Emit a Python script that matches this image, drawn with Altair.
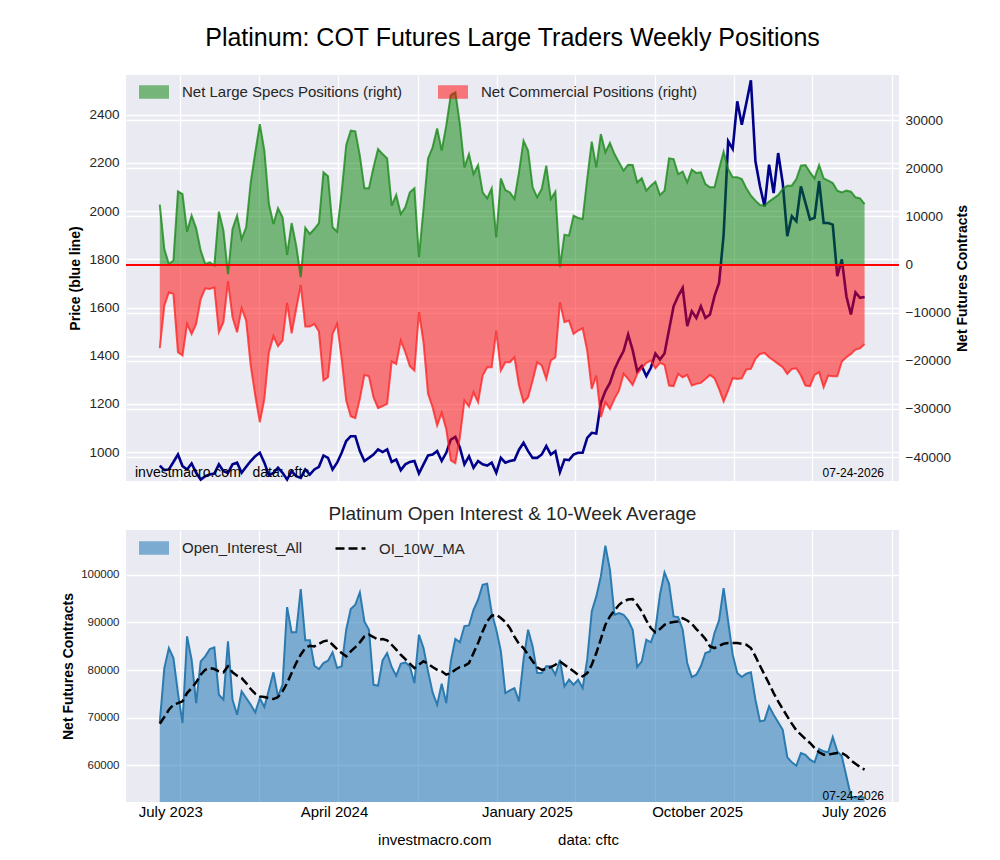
import altair as alt
import pandas as pd

# Weekly report dates (Tuesdays)
dates = pd.date_range("2023-08-01", periods=156, freq="7D").strftime("%Y-%m-%dT00:00:00").tolist()

price = [
    944, 925, 928, 959, 990, 942, 928, 953, 914, 886,
    900, 907, 911, 949, 921, 914, 949, 956, 914, 939,
    963, 983, 997, 956, 903, 914, 935, 914, 886, 921,
    900, 893, 928, 907, 928, 939, 986, 976, 928, 956,
    997, 1046, 1066, 1066, 1004, 963, 976, 990, 1011, 1000,
    1011, 959, 969, 925, 949, 959, 963, 911, 949, 986,
    990, 1004, 963, 997, 1052, 1063, 1018, 949, 983, 935,
    963, 949, 944, 956, 914, 976, 956, 963, 967, 1010,
    1039, 1004, 976, 976, 990, 1025, 990, 1004, 917, 969,
    967, 990, 997, 997, 1059, 1080, 1077, 1204, 1253, 1287,
    1343, 1384, 1419, 1488, 1423, 1336, 1357, 1315, 1350, 1409,
    1384, 1409, 1508, 1605, 1647, 1681, 1523, 1585, 1557, 1605,
    1557, 1571, 1647, 1702, 1900, 2290, 2258, 2456, 2359, 2449,
    2543, 2207, 2103, 2020, 2193, 2075, 2241, 2117, 1896, 1979,
    1958, 2103, 2034, 1965, 1972, 2124, 1951, 1951, 1944, 1730,
    1800, 1647, 1571, 1663, 1640, 1644,
]

net_specs = [
    12460, 3240, 100, 830, 15230, 14670, 6850, 10180, 7540, 2900,
    100, 480, -200, 11000, 7060, -2000, 7400, 10180, 5320, 7750,
    17100, 23330, 29210, 23680, 12590, 8430, 11700, 9830, 2000, 8640,
    3950, -2600, 7680, 6360, 7400, 8640, 19170, 18340, 7750, 6850,
    15020, 24840, 27830, 27690, 22640, 15850, 15850, 20210, 24010, 22970,
    22080, 12250, 14460, 10510, 11900, 15020, 15850, 1520, 11550, 22080,
    24370, 28310, 23680, 28870, 35230, 35790, 29210, 20210, 22970, 18820,
    20690, 15020, 13770, 15850, 5670, 17900, 15500, 15000, 13630, 19170,
    25760, 23680, 16060, 13980, 15710, 20560, 13630, 15160, -560, 6230,
    6020, 10180, 9690, 9480, 17790, 25550, 20210, 27140, 23330, 25270,
    22980, 21250, 19520, 20770, 20700, 17100, 17930, 15370, 16410, 17240,
    14460, 15370, 22080, 21940, 18820, 19310, 17100, 19730, 19030, 19170,
    16750, 16060, 16060, 19860, 23470, 19860, 18130, 18130, 17790, 15850,
    14330, 13290, 12380, 12250, 13090, 13770, 14460, 15710, 16410, 16410,
    17790, 20560, 20700, 19170, 17930, 20700, 17930, 17450, 16960, 15370,
    15020, 15370, 15160, 13980, 13770, 12590,
]

net_comm = [
    -17390, -8520, -5750, -6100, -18220, -18910, -12340, -14420, -12340, -7150,
    -4920, -5060, -4720, -14060, -11990, -3500, -10950, -14060, -9080, -11640,
    -20980, -27210, -32760, -27910, -18220, -14890, -16970, -15790, -7970, -14270,
    -9220, -4240, -12880, -12880, -12340, -13920, -24100, -23410, -14420, -12340,
    -19610, -28250, -31510, -31930, -27910, -22930, -23200, -27560, -29850, -29430,
    -28950, -20150, -20640, -15790, -18220, -21130, -22030, -9910, -16140, -26870,
    -29640, -33450, -30820, -34150, -40720, -41280, -35880, -28250, -29500, -26530,
    -28600, -23060, -21330, -21330, -13710, -22030, -20290, -20290, -19260, -25140,
    -28600, -27560, -24100, -20290, -20980, -23760, -19940, -19260, -7830, -11990,
    -11640, -14420, -13710, -13230, -17870, -25840, -23060, -31720, -28600, -30000,
    -27910, -26170, -22720, -23760, -25010, -22720, -21540, -20440, -19940, -21540,
    -20440, -20850, -25140, -25280, -22720, -23410, -22930, -25140, -24800, -24590,
    -23760, -22930, -23620, -25840, -28460, -26170, -23620, -23760, -23620, -21810,
    -21680, -19610, -18570, -18360, -19260, -19940, -20640, -21330, -22720, -21680,
    -21540, -23060, -25140, -25280, -22930, -22370, -25490, -23060, -23200, -23200,
    -20150, -19260, -18570, -17660, -17390, -16490,
]

open_interest = [
    68990, 80420, 84620, 82520, 75170, 68880, 87070, 82170, 73070, 81830,
    82870, 84410, 84760, 74820, 73770, 86020, 73770, 70620, 75520, 74120,
    72720, 71120, 74120, 72230, 75870, 79520, 74470, 76920, 93210, 87910,
    87910, 96990, 86230, 86230, 80900, 80210, 81470, 81960, 83710, 80420,
    80780, 88460, 92800, 93700, 96300, 90220, 88460, 76920, 76710, 82030,
    83570, 80630, 78810, 81330, 81610, 80780, 77270, 87420, 84620, 79730,
    75310, 72720, 77130, 73070, 81830, 86510, 85810, 89230, 89370, 92660,
    94750, 97900, 98110, 92000, 88500, 84000, 75170, 75730, 76220, 73430,
    82170, 88460, 84970, 79370, 79370, 80780, 80780, 79020, 82170, 76570,
    77970, 76920, 77970, 76220, 82170, 92310, 95460, 99660, 106090, 101050,
    91610, 91960, 91610, 90430, 88460, 80630, 81830, 86370, 85810, 88460,
    95810, 100500, 98110, 91260, 91120, 88460, 81470, 78530, 79020, 80780,
    83570, 83920, 87770, 90430, 97200, 90220, 83210, 79370, 78530, 79240,
    79520, 73770, 69230, 69440, 72380, 70620, 69020, 67470, 61740, 60630,
    59920, 62580, 62220, 61180, 60630, 63420, 62940, 62730, 65940, 62940,
    61890, 57690, 53490, 53140, 53490, 53140,
]

oi_10w_ma = [
    68740, 70140, 71670, 72720, 73070, 73430, 75170, 76220, 77410, 79020,
    80060, 80420, 80210, 79730, 79520, 80780, 79520, 78810, 78320, 77270,
    76010, 75030, 74470, 74330, 74120, 73910, 74330, 75520, 77270, 79370,
    81470, 83210, 84620, 85100, 84970, 85520, 86020, 86230, 85310, 84410,
    83570, 82870, 83920, 84830, 85810, 87070, 87420, 86930, 86370, 86510,
    86230, 85310, 84270, 83210, 82310, 81330, 80420, 81110, 81830, 81330,
    80630, 80060, 79730, 79020, 79370, 80060, 80630, 80900, 81470, 83570,
    85660, 88120, 90220, 91400, 91610, 90910, 90100, 88800, 87000, 85500,
    84620, 83210, 81830, 80560, 80060, 80210, 80630, 81110, 81830, 81110,
    80420, 79730, 79020, 78670, 79370, 81110, 83570, 86510, 89510, 91260,
    92520, 93700, 94420, 94800, 94890, 93700, 92310, 90430, 88820, 87910,
    88600, 89510, 89930, 90070, 90220, 90890, 90400, 89720, 88600, 87630,
    86510, 84970, 84620, 85100, 85520, 85660, 85660, 85660, 85520, 85310,
    84620, 82870, 80900, 79020, 77130, 75170, 73430, 71820, 70280, 68740,
    67350, 66440, 65530, 64690, 63640, 62730, 62240, 62240, 62450, 62590,
    62590, 62030, 61050, 60350, 59650, 59090,
]

# Month captions under the lower panel and where they sit on the time axis
month_labels = ["July 2023", "April 2024", "January 2025", "October 2025", "July 2026"]
month_label_dates = ["2023-08-18T00:00:00", "2024-04-26T00:00:00", "2025-02-17T00:00:00",
                     "2025-11-06T00:00:00", "2026-07-05T00:00:00"]

# Vertical grid positions (every four months)
grid_dates = [(2023, 9, 1), (2024, 1, 1), (2024, 5, 1), (2024, 9, 1), (2025, 1, 1),
              (2025, 5, 1), (2025, 9, 1), (2026, 1, 1), (2026, 5, 1), (2026, 9, 1)]

SPECS = "Net Large Specs Positions (right)"
COMM = "Net Commercial Positions (right)"
OI = "Open_Interest_All"
MA = "OI_10W_MA"

df = pd.DataFrame({
    "date": dates,
    "price": price,
    SPECS: net_specs,
    COMM: net_comm,
    OI: open_interest,
    MA: oi_10w_ma,
})
labels_df = pd.DataFrame({"date": month_label_dates, "label": month_labels})

FONT = "Liberation Sans"
W, H_TOP, H_BOT = 773, 406, 272
TEXT = "#262626"
RECT = "M-1,-0.45H1V0.45H-1Z"

x_scale = alt.Scale(domain=[alt.DateTime(year=2023, month=6, date=10),
                            alt.DateTime(year=2026, month=9, date=12)])


def x_axis(title=None, **kw):
    return alt.Axis(
        values=[alt.DateTime(year=y, month=m, date=d) for y, m, d in grid_dates],
        labels=False, ticks=False, domain=False, grid=True,
        gridColor="white", gridWidth=1.3, title=title, **kw,
    )


X_TOP = alt.X("date:T", scale=x_scale, axis=x_axis())

# ---------- upper panel: price (left) and net positions (right) ----------
left_axis = alt.Axis(
    values=list(range(1000, 2401, 200)), format="d", title="Price (blue line)",
    titleFontSize=14, titleFontWeight="bold", titleColor="black",
    titleAngle=270, titleX=-51, titleY=H_TOP / 2, titleBaseline="middle",
    labelFontSize=13.5, labelColor=TEXT, labelPadding=7, ticks=False, tickSize=0,
    domain=False, grid=True, gridColor="white", gridWidth=1.3,
)
right_axis = alt.Axis(
    orient="right", values=list(range(-40000, 30001, 10000)), format="d",
    title="Net Futures Contracts", titleFontSize=14, titleFontWeight="bold",
    titleColor="black", titleAngle=270, titleX=63, titleY=H_TOP / 2,
    titleBaseline="middle", labelFontSize=13.5, labelColor=TEXT, labelPadding=6,
    ticks=False, tickSize=0, domain=False, grid=True, gridColor="white", gridWidth=1.3,
)
price_scale = alt.Scale(domain=[880, 2565], nice=False, zero=False)
net_scale = alt.Scale(domain=[-44985, 39410], nice=False, zero=False)

base = alt.Chart(df)

price_line = base.mark_line(color="#00008b", strokeWidth=2.6).encode(
    x=X_TOP, y=alt.Y("price:Q", scale=price_scale, axis=left_axis)
)

net_areas = base.transform_fold([SPECS, COMM], as_=["series", "value"]).mark_area(
    opacity=0.5
).encode(
    x=X_TOP,
    y=alt.Y("value:Q", scale=net_scale, axis=right_axis, stack=None),
    y2=alt.datum(0),
    color=alt.Color(
        "series:N",
        scale=alt.Scale(domain=[SPECS, COMM], range=["green", "red"]),
        legend=alt.Legend(
            orient="none", legendX=12, legendY=1, direction="horizontal", title=None,
            symbolType=RECT, symbolSize=900, labelFontSize=15, labelLimit=400,
            labelColor=TEXT, labelFont=FONT, columnPadding=34, labelOffset=12,
        ),
    ),
)

specs_line = base.mark_line(color="#1b8a1b", strokeWidth=2, opacity=0.8).encode(
    x=X_TOP, y=alt.Y(f"{SPECS}:Q", scale=net_scale, axis=right_axis)
)
comm_line = base.mark_line(color="#ff1f1f", strokeWidth=2, opacity=0.75).encode(
    x=X_TOP, y=alt.Y(f"{COMM}:Q", scale=net_scale, axis=right_axis)
)
zero_line = base.mark_rule(color="red", strokeWidth=1, opacity=0.6).encode(
    y=alt.datum(0, scale=net_scale, axis=right_axis)
)

top_credit = alt.Chart(pd.DataFrame({"t": ["investmacro.com\u00a0\u00a0\u00a0data: cftc"]})).mark_text(
    align="left", baseline="middle", fontSize=14, font=FONT, color="black"
).encode(x=alt.value(9), y=alt.value(398), text="t:N")
top_date = alt.Chart(pd.DataFrame({"t": ["07-24-2026"]})).mark_text(
    align="right", baseline="middle", fontSize=12, font=FONT, color="black"
).encode(x=alt.value(758), y=alt.value(398), text="t:N")

net_layer = alt.layer(net_areas, specs_line, comm_line, zero_line)
top = alt.layer(price_line, net_layer, top_credit, top_date).resolve_scale(
    y="independent"
).properties(width=W, height=H_TOP)

# ---------- lower panel: open interest with 10-week average ----------
oi_scale = alt.Scale(domain=[52300, 109400], nice=False, zero=False)
oi_axis = alt.Axis(
    values=list(range(60000, 100001, 10000)), format="d",
    title="Net Futures Contracts", titleFontSize=14, titleFontWeight="bold",
    titleColor="black", titleAngle=270, titleX=-58, titleY=H_BOT / 2,
    titleBaseline="middle", labelFontSize=11.5, labelColor=TEXT, labelPadding=7,
    ticks=False, tickSize=0, domain=False, grid=True, gridColor="white", gridWidth=1.3,
)
X_BOT = alt.X("date:T", scale=x_scale, axis=x_axis(
    title="investmacro.com" + "\u00a0" * 16 + "data: cftc",
    titleFontSize=15, titleFontWeight="normal", titleFont=FONT, titleColor="black",
    titleX=372, titleY=37, titleAlign="center", titleBaseline="middle",
))

oi_area = base.transform_fold([OI], as_=["series", "value"]).mark_area(
    opacity=0.55, clip=True
).encode(
    x=X_BOT,
    y=alt.Y("value:Q", scale=oi_scale, axis=oi_axis),
    color=alt.Color(
        "series:N", scale=alt.Scale(domain=[OI], range=["#1f77b4"]),
        legend=alt.Legend(
            orient="none", legendX=12, legendY=2, title=None,
            symbolType=RECT, symbolSize=900, labelFontSize=15, labelLimit=400,
            labelColor=TEXT, labelFont=FONT, labelOffset=12,
        ),
    ),
)
oi_line = base.mark_line(color="#2b7bb0", strokeWidth=2, clip=True).encode(
    x=X_BOT, y=alt.Y(f"{OI}:Q", scale=oi_scale, axis=oi_axis)
)
ma_line = base.transform_fold([MA], as_=["series", "value"]).mark_line(
    color="black", strokeWidth=2.5
).encode(
    x=X_BOT,
    y=alt.Y("value:Q", scale=oi_scale, axis=oi_axis),
    strokeDash=alt.StrokeDash(
        "series:N", scale=alt.Scale(domain=[MA], range=[[9, 4]]),
        legend=alt.Legend(
            orient="none", legendX=208, legendY=2, title=None, symbolType="stroke",
            symbolSize=900, symbolStrokeColor="black", symbolStrokeWidth=2.5,
            labelFontSize=15, labelLimit=400, labelColor=TEXT, labelFont=FONT,
            labelOffset=12,
        ),
    ),
)
month_text = alt.Chart(labels_df).mark_text(
    baseline="middle", fontSize=15, font=FONT, color="black"
).encode(x=X_BOT, y=alt.value(H_BOT + 10), text="label:N")
bot_date = alt.Chart(pd.DataFrame({"t": ["07-24-2026"]})).mark_text(
    align="right", baseline="middle", fontSize=12, font=FONT, color="black"
).encode(x=alt.value(758), y=alt.value(266), text="t:N")

bottom = alt.layer(oi_area, oi_line, ma_line, month_text, bot_date).properties(
    width=W, height=H_BOT,
    title=alt.TitleParams(
        "Platinum Open Interest & 10-Week Average", fontSize=19, fontWeight="normal",
        font=FONT, color=TEXT, anchor="middle", frame="group", offset=6,
    ),
)

chart = alt.vconcat(
    top, bottom, spacing=49, bounds="flush",
    title=alt.TitleParams(
        "Platinum: COT Futures Large Traders Weekly Positions", fontSize=25,
        fontWeight="normal", font=FONT, color="black", anchor="middle",
        frame="group", offset=24,
    ),
    padding={"left": 61, "top": 26, "right": 10, "bottom": 10},
).resolve_scale(
    color="independent", strokeDash="independent"
).resolve_legend(
    color="independent", strokeDash="independent"
).configure(font=FONT).configure_view(fill="#eaeaf2", stroke=None).configure_legend(
    padding=0
)

chart.save("out.html", embed_options={"renderer": "svg", "actions": False})
